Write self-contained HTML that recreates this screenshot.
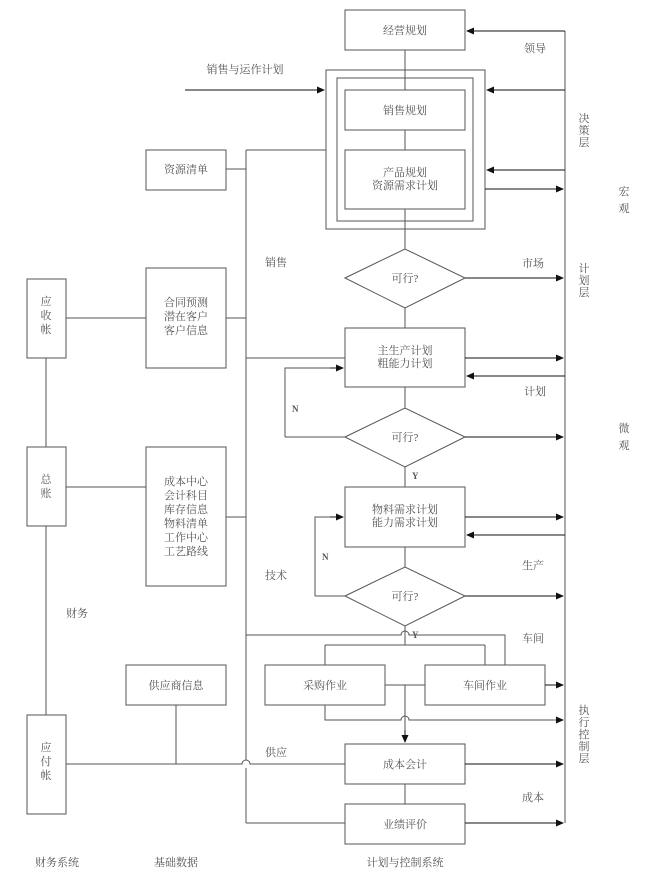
<!DOCTYPE html>
<html><head><meta charset="utf-8"><style>
html,body{margin:0;padding:0;background:#fff}
svg{display:block}
text{font-family:"Liberation Serif","Noto Serif CJK SC","Noto Sans CJK SC",serif;font-size:11px;fill:#555}
</style></head><body>
<svg width="645" height="884" viewBox="0 0 645 884" xmlns="http://www.w3.org/2000/svg">
<defs><marker id="a" markerWidth="8" markerHeight="8" refX="7" refY="4" orient="auto" markerUnits="userSpaceOnUse"><path d="M0,0.5 L8,4 L0,7.5 z" fill="#111"/></marker></defs>
<g fill="none" stroke="#555" stroke-width="1">
<!-- boxes -->
<rect x="345" y="10" width="120" height="40"/>
<rect x="326" y="70" width="159" height="159"/>
<rect x="337" y="78" width="136" height="143"/>
<rect x="345" y="90" width="120" height="40"/>
<rect x="345" y="150" width="120" height="59"/>
<polygon points="345,278 405,249 465,278 405,308"/>
<rect x="345" y="328" width="120" height="59"/>
<polygon points="345,437 405,408 465,437 405,467"/>
<rect x="345" y="487" width="120" height="60"/>
<polygon points="345,596 405,567 465,596 405,626"/>
<rect x="265" y="665" width="120" height="40"/>
<rect x="425" y="665" width="120" height="40"/>
<rect x="345" y="744" width="120" height="40"/>
<rect x="345" y="804" width="120" height="40"/>
<rect x="146" y="150" width="80" height="40"/>
<rect x="146" y="268" width="80" height="100"/>
<rect x="146" y="447" width="80" height="139"/>
<rect x="126" y="665" width="100" height="40"/>
<rect x="27" y="279" width="39" height="79"/>
<rect x="27" y="447" width="39" height="79"/>
<rect x="27" y="715" width="39" height="99"/>
<!-- vertical connectors -->
<path d="M405,50V90M405,130V150M405,209V249M405,308V328M405,387V408M405,467V487M405,547V567"/>
<path d="M565,31V823"/>
<path d="M246,150V760 M246,768V823"/>
<path d="M246,150H326M226,169H246M226,318H246M66,318H146M66,487H146M226,517H246"/>
<path d="M46,358V447M46,526V715M176,705V764"/>
<path d="M246,358H345"/>
<path d="M66,764H242 A4,4 0 0 1 250,764 H345"/>
<path d="M246,823H345"/>
<path d="M285,437V368H343"/>
<path d="M345,437H285"/>
<path d="M315,596V517H343"/>
<path d="M345,596H315"/>
<!-- Y line -->
<path d="M246,635H401 A4,4 0 0 1 409,635 H505V665"/>
<path d="M405,626V645M325,645H485M325,645V665M485,645V665"/>
<path d="M385,685H425M405,685V742"/>
<path d="M325,705V720H401 A4,4 0 0 1 409,720 H563" marker-end="url(#a)"/>
<path d="M405,784V804"/>
</g>
<g fill="none" stroke="#111" stroke-width="1">
<path d="M565,31H467" marker-end="url(#a)"/>
<path d="M565,90H487" marker-end="url(#a)"/>
<path d="M565,170H487" marker-end="url(#a)"/>
<path d="M485,189H563" marker-end="url(#a)"/>
<path d="M185,90H324" marker-end="url(#a)"/>
<path d="M465,278H563" marker-end="url(#a)"/>
<path d="M465,358H563" marker-end="url(#a)"/>
<path d="M565,376H467" marker-end="url(#a)"/>
<path d="M330,368H343" marker-end="url(#a)"/>
<path d="M465,437H563" marker-end="url(#a)"/>
<path d="M465,517H563" marker-end="url(#a)"/>
<path d="M565,535H467" marker-end="url(#a)"/>
<path d="M330,517H343" marker-end="url(#a)"/>
<path d="M465,596H563" marker-end="url(#a)"/>
<path d="M545,685H563" marker-end="url(#a)"/>
<path d="M405,730V742" marker-end="url(#a)"/>
<path d="M465,764H563" marker-end="url(#a)"/>
<path d="M465,823H563" marker-end="url(#a)"/>
</g>
<g text-anchor="middle">
<text x="405" y="34">经营规划</text>
<text x="405" y="114">销售规划</text>
<text x="405" y="176">产品规划</text>
<text x="405" y="189">资源需求计划</text>
<text x="405" y="282">可行?</text>
<text x="405" y="354">主生产计划</text>
<text x="405" y="367">粗能力计划</text>
<text x="405" y="441">可行?</text>
<text x="405" y="513">物料需求计划</text>
<text x="405" y="526">能力需求计划</text>
<text x="405" y="600">可行?</text>
<text x="325" y="689">采购作业</text>
<text x="485" y="689">车间作业</text>
<text x="405" y="768">成本会计</text>
<text x="405" y="828">业绩评价</text>
<text x="186" y="173">资源清单</text>
<text x="186" y="306">合同预测</text>
<text x="186" y="320">潜在客户</text>
<text x="186" y="334">客户信息</text>
<text x="186" y="485">成本中心</text>
<text x="186" y="499">会计科目</text>
<text x="186" y="513">库存信息</text>
<text x="186" y="527">物料清单</text>
<text x="186" y="541">工作中心</text>
<text x="186" y="555">工艺路线</text>
<text x="176" y="689">供应商信息</text>
<text x="46" y="305">应</text><text x="46" y="319">收</text><text x="46" y="333">帐</text>
<text x="46" y="483">总</text><text x="46" y="497">账</text>
<text x="46" y="751">应</text><text x="46" y="765">付</text><text x="46" y="779">帐</text>
<text x="245" y="73">销售与运作计划</text>
<text x="535" y="52">领导</text>
<text x="533" y="267">市场</text>
<text x="535" y="395">计划</text>
<text x="533" y="569">生产</text>
<text x="533" y="642">车间</text>
<text x="533" y="801">成本</text>
<text x="276" y="266">销售</text>
<text x="276" y="579">技术</text>
<text x="276" y="756">供应</text>
<text x="77" y="617">财务</text>
<text x="57" y="866">财务系统</text>
<text x="176" y="866">基础数据</text>
<text x="405" y="866">计划与控制系统</text>
<text x="584" y="122">决</text><text x="584" y="134">策</text><text x="584" y="146">层</text>
<text x="584" y="272">计</text><text x="584" y="284">划</text><text x="584" y="296">层</text>
<text x="584" y="714">执</text><text x="584" y="726">行</text><text x="584" y="738">控</text><text x="584" y="750">制</text><text x="584" y="762">层</text>
<text x="624" y="195">宏</text><text x="624" y="212">观</text>
<text x="624" y="432">微</text><text x="624" y="449">观</text>
</g>
<g font-weight="bold" style="font-size:9px">
<text x="292" y="412" style="font-size:9px;font-weight:bold">N</text>
<text x="322" y="560" style="font-size:9px;font-weight:bold">N</text>
<text x="412" y="479" style="font-size:9px;font-weight:bold">Y</text>
<text x="412" y="638" style="font-size:9px;font-weight:bold">Y</text>
</g>
</svg>
</body></html>
